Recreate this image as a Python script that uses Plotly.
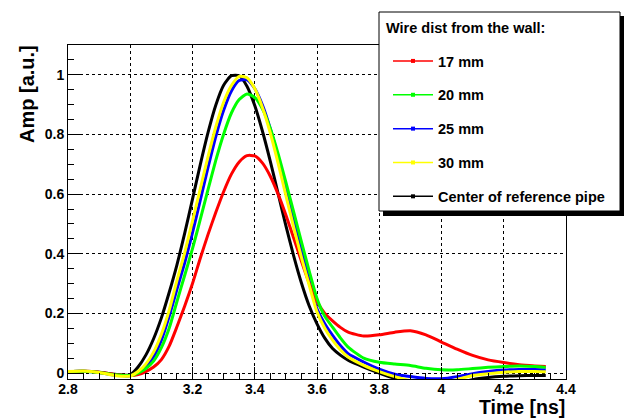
import plotly.graph_objects as go

t = [2.80, 2.85, 2.90, 2.95,
     3.000, 3.025, 3.050, 3.075, 3.100, 3.125, 3.150, 3.175, 3.200, 3.225, 3.250,
     3.275, 3.300, 3.325, 3.350, 3.375, 3.400, 3.425, 3.450, 3.475, 3.500, 3.525,
     3.550, 3.575, 3.600, 3.625, 3.650, 3.675, 3.700,
     3.75, 3.80, 3.85, 3.90, 3.95, 4.00, 4.05, 4.10, 4.15, 4.20, 4.25, 4.30, 4.335]

amp_17 = [0.005, 0.006, 0.003, -0.005,
          -0.008, -0.005, 0.005, 0.020, 0.045, 0.090, 0.155, 0.225, 0.300, 0.385, 0.465,
          0.539, 0.608, 0.667, 0.708, 0.729, 0.728, 0.704, 0.660, 0.600, 0.530, 0.453,
          0.375, 0.301, 0.240, 0.200, 0.175, 0.153, 0.137,
          0.124, 0.128, 0.137, 0.142, 0.128, 0.104, 0.080, 0.059, 0.044, 0.035, 0.028, 0.024, 0.022]
amp_20 = [0.005, 0.006, 0.002, -0.006,
          -0.008, 0.000, 0.015, 0.040, 0.085, 0.150, 0.240, 0.328, 0.417, 0.515, 0.616,
          0.714, 0.801, 0.872, 0.917, 0.936, 0.924, 0.885, 0.820, 0.736, 0.640, 0.540,
          0.440, 0.342, 0.250, 0.190, 0.154, 0.118, 0.087,
          0.050, 0.036, 0.030, 0.025, 0.016, 0.011, 0.011, 0.015, 0.019, 0.022, 0.024, 0.022, 0.019]
amp_25 = [0.005, 0.006, 0.002, -0.007,
          -0.009, 0.002, 0.022, 0.055, 0.110, 0.190, 0.281, 0.370, 0.471, 0.580, 0.690,
          0.794, 0.881, 0.946, 0.981, 0.983, 0.954, 0.898, 0.819, 0.723, 0.619, 0.514,
          0.414, 0.310, 0.215, 0.165, 0.126, 0.092, 0.065,
          0.037, 0.013, -0.004, -0.012, -0.018, -0.019, -0.012, -0.002, 0.005, 0.010, 0.012, 0.012, 0.011]
amp_30 = [0.005, 0.007, 0.002, -0.008,
          -0.010, 0.005, 0.030, 0.070, 0.130, 0.210, 0.310, 0.404, 0.510, 0.618, 0.726,
          0.826, 0.908, 0.964, 0.995, 0.990, 0.954, 0.890, 0.805, 0.704, 0.596, 0.489,
          0.388, 0.294, 0.205, 0.150, 0.110, 0.078, 0.054,
          0.026, 0.005, -0.012, -0.025, -0.032, -0.035, -0.022, -0.008, -0.002, 0.003, 0.005, 0.005, 0.004]
amp_center = [0.005, 0.006, 0.003, -0.004,
              -0.006, 0.020, 0.060, 0.115, 0.185, 0.270, 0.363, 0.469, 0.583, 0.699, 0.807,
              0.899, 0.965, 0.997, 0.997, 0.962, 0.897, 0.810, 0.710, 0.602, 0.494, 0.393,
              0.302, 0.225, 0.165, 0.117, 0.082, 0.060, 0.043,
              0.020, 0.000, -0.018, -0.030, -0.038, -0.040, -0.035, -0.022, -0.015, -0.011, -0.009, -0.008, -0.008]

labels = ["17 mm", "20 mm", "25 mm", "30 mm", "Center of reference pipe"]
colors = ["#ff0000", "#00ff00", "#0000ff", "#ffff00", "#000000"]
series = [amp_17, amp_20, amp_25, amp_30, amp_center]
draw_order = [4, 2, 0, 1, 3]
legend_title = "Wire dist from the wall:"
x_title = "Time [ns]"
y_title = "Amp [a.u.]"

FONT = "Liberation Sans"

fig = go.Figure()

for i in draw_order:
    fig.add_trace(go.Scatter(
        x=t, y=series[i], mode="lines",
        line=dict(color=colors[i], width=3, shape="spline", smoothing=0.6),
        showlegend=False, hoverinfo="skip"))

for i in range(5):
    fig.add_trace(go.Scatter(
        x=[None], y=[None], mode="lines+markers", name=labels[i],
        legendgroup=labels[i],
        line=dict(color=colors[i], width=1.5),
        marker=dict(color=colors[i], size=4, symbol="square")))

axis_common = dict(
    showline=True, linecolor="black", linewidth=1, mirror=True,
    ticks="inside", ticklen=12, tickcolor="black", tickwidth=1,
    showgrid=True, gridcolor="black", griddash="dot", gridwidth=1,
    zeroline=False,
    tickfont=dict(family=FONT, size=14, color="black", weight="bold"),
)

fig.update_xaxes(range=[2.8, 4.4], dtick=0.2, tick0=2.8, ticklabelstandoff=-3,
                 minor=dict(dtick=0.05, ticks="inside", ticklen=6, tickcolor="black", showgrid=False),
                 **axis_common)
fig.update_yaxes(range=[-0.02, 1.1], dtick=0.2, tick0=0,
                 minor=dict(dtick=0.05, ticks="inside", ticklen=6, tickcolor="black", showgrid=False),
                 **axis_common)

L, R, T, B = 68, 58, 45, 41
PW, PH = 624 - L - R, 420 - T - B


def px(xp):
    return (xp - L) / PW


def py(yp):
    return (420 - B - yp) / PH


# legend box with shadow (ROOT style)
fig.add_shape(type="rect", xref="paper", yref="paper",
              x0=px(383), x1=px(625), y0=py(216), y1=py(16),
              fillcolor="black", line=dict(width=0), layer="above")
fig.add_shape(type="rect", xref="paper", yref="paper",
              x0=px(379), x1=px(620), y0=py(211), y1=py(12),
              fillcolor="white", line=dict(color="black", width=1), layer="above")

fig.update_layout(
    width=624, height=420,
    margin=dict(l=L, r=R, t=T, b=B),
    paper_bgcolor="white", plot_bgcolor="white",
    font=dict(family=FONT, color="black"),
    legend=dict(
        x=px(388), y=py(45), xanchor="left", yanchor="top",
        bgcolor="rgba(0,0,0,0)", borderwidth=0,
        font=dict(family=FONT, size=14.5, color="black", weight="bold"),
        tracegroupgap=12, itemwidth=40,
    ),
    annotations=[
        dict(text=legend_title, xref="paper", yref="paper",
             x=px(384), y=py(28), xanchor="left", yanchor="middle", showarrow=False,
             font=dict(family=FONT, size=14.5, color="black", weight="bold")),
        dict(text=y_title, xref="paper", yref="paper",
             x=px(27), y=py(43), xanchor="center", yanchor="top",
             textangle=-90, showarrow=False,
             font=dict(family=FONT, size=20, color="black", weight="bold")),
        dict(text=x_title, xref="paper", yref="paper",
             x=px(567), y=py(420), xanchor="right", yanchor="bottom",
             showarrow=False,
             font=dict(family=FONT, size=19.5, color="black", weight="bold")),
    ],
)

fig.write_html("out.html", config={"displayModeBar": False},
               post_script="document.body.style.margin='0px';document.body.style.padding='0px';")
